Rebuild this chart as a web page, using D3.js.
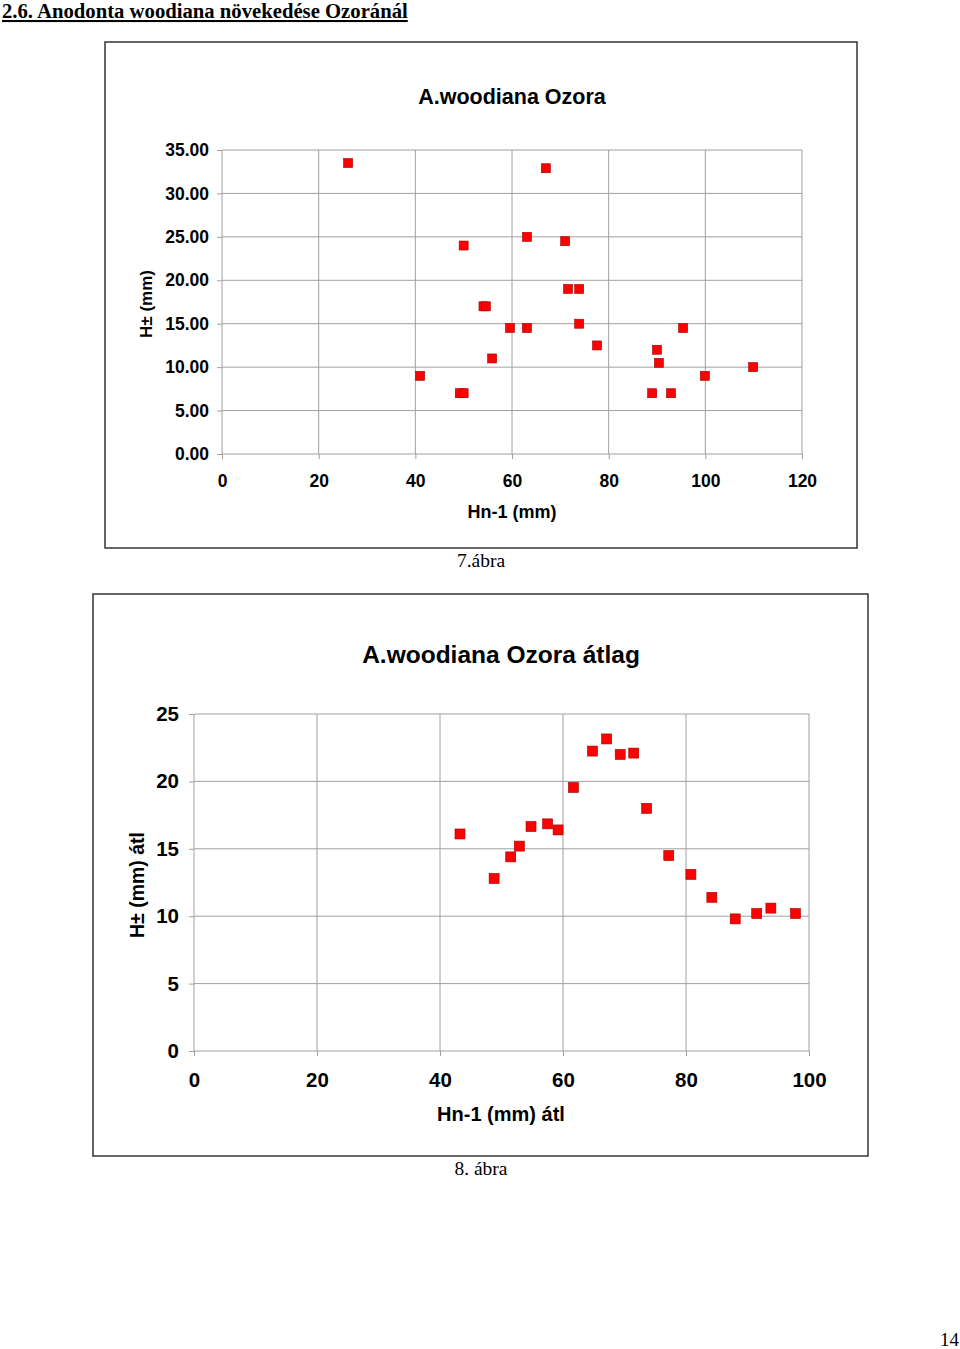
<!DOCTYPE html>
<html>
<head>
<meta charset="utf-8">
<script src="https://cdn.jsdelivr.net/npm/d3@7"></script>
<style>
  body { margin: 0; background: #fff; }
  svg { display: block; }
  .grid line { stroke: #a0a0a0; stroke-width: 1; }
  .axis path, .axis line { stroke: #a0a0a0; }
  .axis text { font-family: "Liberation Sans", Arial, sans-serif; font-weight: bold; fill: #000; }
</style>
</head>
<body>
<script>
// 7. ábra: individual growth
const topHn = [26.1, 67.0, 50.0, 63.1, 71.0, 54.1, 54.6, 71.6, 73.9, 59.6, 63.1, 73.9, 55.9, 77.6, 41.0, 49.2, 50.0, 90.0, 90.4, 95.4, 89.0, 92.9, 99.9, 109.9];
const topH  = [33.5, 32.9, 24.0, 25.0, 24.5, 17.0, 17.0, 19.0, 19.0, 14.5, 14.5, 15.0, 11.0, 12.5, 9.0, 7.0, 7.0, 12.0, 10.5, 14.5, 7.0, 7.0, 9.0, 10.0];
const topXTicks = [0, 20, 40, 60, 80, 100, 120];
const topYTicks = [0, 5, 10, 15, 20, 25, 30, 35];

// 8. ábra: averages
const avgHn = [43.25, 48.8, 51.5, 52.9, 54.8, 57.5, 59.2, 61.7, 64.8, 67.1, 69.3, 71.5, 73.6, 77.2, 80.8, 84.2, 88.0, 91.5, 93.8, 97.8];
const avgH  = [16.1, 12.8, 14.4, 15.2, 16.65, 16.85, 16.4, 19.55, 22.25, 23.15, 22.0, 22.1, 18.0, 14.5, 13.1, 11.4, 9.8, 10.2, 10.6, 10.2];
const avgXTicks = [0, 20, 40, 60, 80, 100];
const avgYTicks = [0, 5, 10, 15, 20, 25];

const W = 960, H = 1349;
const svg = d3.select('body').append('svg').attr('width', W).attr('height', H);

// page heading
svg.append('text')
    .attr('x', 2).attr('y', 18)
    .style('font-family', '"Liberation Serif", "Times New Roman", serif')
    .style('font-weight', 'bold')
    .style('font-size', '20.7px')
    .style('text-decoration', 'underline')
    .text('2.6. Anodonta woodiana növekedése Ozoránál');

function drawChart(cfg) {
    // outer frame
    svg.append('rect')
        .attr('x', cfg.frame[0]).attr('y', cfg.frame[1])
        .attr('width', cfg.frame[2]).attr('height', cfg.frame[3])
        .attr('fill', '#fff').attr('stroke', '#333').attr('stroke-width', 1.5);

    const x = d3.scaleLinear().domain(cfg.xDomain).range([cfg.plot.left, cfg.plot.right]);
    const y = d3.scaleLinear().domain(cfg.yDomain).range([cfg.plot.bottom, cfg.plot.top]);

    const g = svg.append('g');

    // gridlines
    const grid = g.append('g').attr('class', 'grid');
    grid.selectAll('line.v').data(cfg.xTicks.slice(1)).join('line')
        .attr('x1', d => x(d)).attr('x2', d => x(d))
        .attr('y1', cfg.plot.top).attr('y2', cfg.plot.bottom);
    grid.selectAll('line.h').data(cfg.yTicks.slice(1)).join('line')
        .attr('x1', cfg.plot.left).attr('x2', cfg.plot.right)
        .attr('y1', d => y(d)).attr('y2', d => y(d));

    // axes
    const xAxis = d3.axisBottom(x).tickValues(cfg.xTicks).tickSize(5).tickPadding(cfg.xPad).tickFormat(d3.format('d'));
    g.append('g').attr('class', 'axis')
        .attr('transform', `translate(0,${cfg.plot.bottom})`)
        .call(xAxis)
        .call(a => a.select('.domain').attr('d', `M${cfg.plot.left},0H${cfg.plot.right}`))
        .selectAll('text').style('font-size', cfg.tickSize + 'px');

    const yAxis = d3.axisLeft(y).tickValues(cfg.yTicks).tickSize(5).tickPadding(cfg.yPad).tickFormat(cfg.yFormat);
    g.append('g').attr('class', 'axis')
        .attr('transform', `translate(${cfg.plot.left},0)`)
        .call(yAxis)
        .call(a => a.select('.domain').attr('d', `M0,${cfg.plot.top}V${cfg.plot.bottom}`))
        .selectAll('text').style('font-size', cfg.tickSize + 'px');

    // points
    const s = cfg.marker;
    g.append('g').selectAll('rect').data(cfg.xs.map((v, i) => [v, cfg.ys[i]])).join('rect')
        .attr('x', d => x(d[0]) - s / 2)
        .attr('y', d => y(d[1]) - s / 2)
        .attr('width', s).attr('height', s)
        .attr('fill', '#ff0000')
        .attr('stroke', '#a00000')
        .attr('stroke-width', 0.6);

    const font = '"Liberation Sans", Arial, sans-serif';
    svg.append('text')
        .attr('x', cfg.titlePos[0]).attr('y', cfg.titlePos[1])
        .attr('text-anchor', 'middle')
        .style('font-family', font).style('font-weight', 'bold')
        .style('font-size', cfg.titleSize + 'px')
        .text(cfg.title);

    svg.append('text')
        .attr('x', cfg.xLabelPos[0]).attr('y', cfg.xLabelPos[1])
        .attr('text-anchor', 'middle')
        .style('font-family', font).style('font-weight', 'bold')
        .style('font-size', cfg.labelSize + 'px')
        .text(cfg.xLabel);

    svg.append('text')
        .attr('transform', `translate(${cfg.yLabelPos[0]},${cfg.yLabelPos[1]}) rotate(-90)`)
        .attr('text-anchor', 'middle')
        .style('font-family', font).style('font-weight', 'bold')
        .style('font-size', cfg.yLabelSize + 'px')
        .text(cfg.yLabel);

    svg.append('text')
        .attr('x', cfg.captionPos[0]).attr('y', cfg.captionPos[1])
        .attr('text-anchor', 'middle')
        .style('font-family', '"Liberation Serif", "Times New Roman", serif')
        .style('font-size', '19.5px')
        .text(cfg.caption);
}

drawChart({
    frame: [105, 42, 752, 506],
    plot: { left: 222, right: 802, top: 150, bottom: 454 },
    xDomain: [0, 120], yDomain: [0, 35],
    xTicks: topXTicks, yTicks: topYTicks,
    yFormat: d3.format('.2f'),
    xPad: 16, yPad: 8,
    tickSize: 17.5,
    xs: topHn, ys: topH,
    marker: 9,
    title: 'A.woodiana Ozora', titlePos: [512, 104], titleSize: 21.5,
    xLabel: 'Hn-1 (mm)', xLabelPos: [512, 518],
    yLabel: 'H± (mm)', yLabelPos: [152, 304],
    labelSize: 18, yLabelSize: 17,
    caption: '7.ábra', captionPos: [481, 567]
});

drawChart({
    frame: [93, 594, 775, 562],
    plot: { left: 194, right: 809, top: 714, bottom: 1051 },
    xDomain: [0, 100], yDomain: [0, 25],
    xTicks: avgXTicks, yTicks: avgYTicks,
    yFormat: d3.format('d'),
    xPad: 16, yPad: 10,
    tickSize: 20.5,
    xs: avgHn, ys: avgH,
    marker: 10,
    title: 'A.woodiana Ozora átlag', titlePos: [501, 663], titleSize: 24.5,
    xLabel: 'Hn-1 (mm) átl', xLabelPos: [501, 1121],
    yLabel: 'H± (mm) átl', yLabelPos: [144, 885],
    labelSize: 20, yLabelSize: 19.5,
    caption: '8. ábra', captionPos: [481, 1175]
});

svg.append('text')
    .attr('x', 959).attr('y', 1346)
    .attr('text-anchor', 'end')
    .style('font-family', '"Liberation Serif", "Times New Roman", serif')
    .style('font-size', '19px')
    .text('14');
</script>
</body>
</html>
